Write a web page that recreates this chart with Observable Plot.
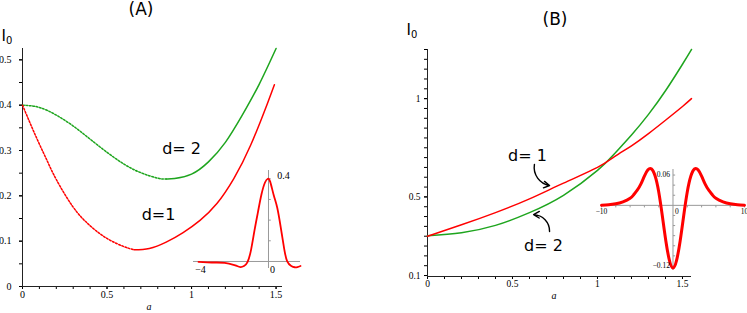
<!DOCTYPE html>
<html><head><meta charset="utf-8">
<script src="https://cdn.jsdelivr.net/npm/d3@7"></script>
<script src="https://cdn.jsdelivr.net/npm/@observablehq/plot@0.6"></script>
<style>
body{margin:0;background:#fff;}
#root{position:relative;width:747px;height:313px;overflow:hidden;font-family:"DejaVu Sans",sans-serif;}
.abs{position:absolute;}
.lbl{position:absolute;white-space:nowrap;line-height:1;color:#000;}
</style></head><body><div id="root"></div>
<script>
// ---------- Panel A data ----------
const aA_d2 = [0,0.1,0.2,0.3,0.4,0.5,0.6,0.7,0.8,0.85,0.9,1.0,1.1,1.2,1.3,1.4,1.5];
const IA_d2 = [0.400,0.395,0.378,0.354,0.325,0.296,0.270,0.251,0.239,0.237,0.238,0.248,0.275,0.318,0.378,0.446,0.525];
const aA_d1 = [0,0.05,0.1,0.15,0.2,0.3,0.4,0.5,0.6,0.66,0.75,0.85,0.95,1.05,1.15,1.25,1.35,1.45,1.49];
const IA_d1 = [0.400,0.356,0.314,0.274,0.236,0.175,0.134,0.106,0.088,0.081,0.084,0.098,0.119,0.146,0.183,0.238,0.312,0.405,0.445];
const splitA_d2 = 0.85, splitA_d1 = 0.66;
// inset A
const xInsetA = [-4,-3.5,-3,-2.5,-2,-1.8,-1.6,-1.4,-1.2,-1.0,-0.8,-0.6,-0.4,-0.2,-0.04,0.1,0.3,0.5,0.7,0.9,1.07,1.3,1.5,1.65,1.83];
const yInsetA = [-0.002,-0.004,-0.005,-0.007,-0.016,-0.022,-0.027,-0.022,-0.003,0.055,0.15,0.24,0.325,0.382,0.40,0.385,0.32,0.26,0.165,0.06,0.0,-0.022,-0.028,-0.027,-0.022];
// ---------- Panel B data ----------
const aB = [0,0.2,0.4,0.6,0.8,1.0,1.1,1.2,1.3,1.4,1.5,1.553];
const IB_d1 = [0.300,0.358,0.420,0.490,0.570,0.650,0.705,0.760,0.822,0.890,0.960,1.000];
const IB_d2 = [0.302,0.318,0.355,0.420,0.508,0.635,0.720,0.815,0.920,1.040,1.175,1.250];
// inset B
const xInsetB = [-10,-9,-8,-7,-6,-5.5,-5,-4.5,-4,-3.5,-3,-2.5,-2,-1.5,-1,-0.5,0,0.5,1,1.5,2,2.5,3,3.5,4,4.5,5,5.5,6,7,8,9,10];
const yInsetB = [0.0003,0.001,0.003,0.007,0.014,0.021,0.030,0.042,0.058,0.0705,0.072,0.058,0.027,-0.020,-0.0705,-0.109,-0.124,-0.109,-0.0705,-0.020,0.027,0.058,0.072,0.0705,0.058,0.042,0.030,0.021,0.014,0.007,0.003,0.001,0.0003];
// ---------- ticks ----------
const xMinor = [0,0.1,0.2,0.3,0.4,0.5,0.6,0.7,0.8,0.9,1,1.1,1.2,1.3,1.4,1.5];
const xLabels = [0,0.5,1,1.5];
const yMinorA = [0,0.05,0.1,0.15,0.2,0.25,0.3,0.35,0.4,0.45,0.5];
const yLabelsA = [0,0.1,0.2,0.3,0.4,0.5];
const yMinorB = [0.1,0.15,0.2,0.25,0.3,0.35,0.4,0.45,0.5,0.55,0.6,0.65,0.7,0.75,0.8,0.85,0.9,0.95,1,1.05,1.1,1.15,1.2,1.25];
const yLabelsB = [0.1,0.5,1];
const yTicksInsetA = [0.1,0.2,0.3,0.4];
const yTicksInsetB = [-0.12,-0.1,-0.08,-0.06,-0.04,-0.02,0.02,0.04,0.06];
const xTicksInsetB = [-10,-8,-6,-4,-2,2,4,6,8,10];

const green = "#1ea51e", red = "#ff0000";
const fmt = d3.format("~g");
const root = document.getElementById("root");
function place(el, left, top){ const d=document.createElement("div"); d.className="abs"; d.style.left=left+"px"; d.style.top=top+"px"; d.appendChild(el); root.appendChild(d); }
function label(html, x, y, css){ const d=document.createElement("div"); d.className="lbl"; d.innerHTML=html; d.style.left=x+"px"; d.style.top=y+"px"; d.style.transform="translate(-50%,-50%)"; Object.assign(d.style, css||{}); root.appendChild(d); }

const dA2 = aA_d2.map((a,i)=>({a, I:IA_d2[i]}));
const dA1 = aA_d1.map((a,i)=>({a, I:IA_d1[i]}));
const dB1 = aB.map((a,i)=>({a, I:IB_d1[i]}));
const dB2 = aB.map((a,i)=>({a, I:IB_d2[i]}));
const dIA = xInsetA.map((x,i)=>({x, y:yInsetA[i]}));
const dIB = xInsetB.map((x,i)=>({x, y:yInsetB[i]}));

const annoA = [{a:0.941, I:0.304, t:"d= 2"},{a:0.805, I:0.157, t:"d=1"}];
const annoB = [{a:0.588, I:0.711, t:"d= 1"},{a:0.682, I:0.253, t:"d= 2"}];
const arrowsB = [{x1:0.629,y1:0.665,x2:0.718,y2:0.558},{x1:0.718,y1:0.324,x2:0.624,y2:0.41}];

const axisStyle = {fontFamily:"Liberation Serif", fontSize:"10px", background:"transparent", color:"#000", overflow:"visible"};
const curve = "natural";
const dots = "1.8,1.6";

const plotA = Plot.plot({
  width:300, height:313, marginLeft:22, marginRight:18, marginTop:48, marginBottom:27,
  x:{domain:[0,1.538], label:null}, y:{domain:[0,0.525], label:null},
  style: axisStyle,
  marks:[
    Plot.axisX({ticks:xMinor, tickSize:3, tickFormat:()=>"", label:null}),
    Plot.axisX({ticks:xLabels, tickSize:3, tickPadding:1, tickFormat:fmt, label:null}),
    Plot.axisY({ticks:yMinorA, tickSize:3, tickFormat:()=>"", label:null}),
    Plot.axisY({ticks:yLabelsA, tickSize:3, tickPadding:8, tickFormat:fmt, label:null}),
    Plot.ruleY([0], {stroke:"#222"}), Plot.ruleX([0], {stroke:"#222"}),
    Plot.line(dA2.filter(d=>d.a<=splitA_d2), {x:"a", y:"I", stroke:green, strokeWidth:1.5, strokeDasharray:dots, curve}),
    Plot.line(dA2.filter(d=>d.a>=splitA_d2), {x:"a", y:"I", stroke:green, strokeWidth:1.5, curve}),
    Plot.line(dA1.filter(d=>d.a<=splitA_d1), {x:"a", y:"I", stroke:red, strokeWidth:1.5, strokeDasharray:dots, curve}),
    Plot.line(dA1.filter(d=>d.a>=splitA_d1), {x:"a", y:"I", stroke:red, strokeWidth:1.5, curve}),
    Plot.text(annoA, {x:"a", y:"I", text:"t", fontSize:16, fontFamily:"DejaVu Sans", fill:"#000"})
  ]
});
place(plotA, 0, 0);

const insetA = Plot.plot({
  width:120, height:120, marginLeft:13, marginRight:0, marginTop:10, marginBottom:12,
  x:{domain:[-4.286,1.829], axis:null}, y:{domain:[-0.034,0.44], axis:null},
  style:{background:"transparent", overflow:"visible"},
  marks:[
    Plot.ruleY([0], {stroke:"#999"}), Plot.ruleX([0], {stroke:"#999"}),
    Plot.link(yTicksInsetA, {x1:0, x2:0.13, y1:d=>d, y2:d=>d, stroke:"#999"}),
    Plot.line(dIA, {x:"x", y:"y", stroke:red, strokeWidth:1.8, curve}),
    Plot.text(["−4"], {x:-4, y:0, dx:2, dy:8, text:d=>d, fontFamily:"Liberation Serif", fontSize:10}),
    Plot.text(["0"], {x:0, y:0, dx:4, dy:8, text:d=>d, fontFamily:"Liberation Serif", fontSize:10}),
    Plot.text(["0.4"], {x:0, y:0.4, dx:15, dy:-3, text:d=>d, fontFamily:"Liberation Serif", fontSize:10})
  ]
});
place(insetA, 180, 160);

const plotB = Plot.plot({
  width:367, height:313, marginLeft:47, marginRight:56, marginTop:49, marginBottom:37,
  x:{domain:[0,1.553], label:null}, y:{domain:[0.095,1.25], label:null},
  style: {...axisStyle, fontSize:"9.5px"},
  marks:[
    Plot.axisX({ticks:xMinor, tickSize:3, tickFormat:()=>"", label:null}),
    Plot.axisX({ticks:xLabels, tickSize:3, tickPadding:1, tickFormat:fmt, label:null}),
    Plot.axisY({ticks:yMinorB, tickSize:3, tickFormat:()=>"", label:null}),
    Plot.axisY({ticks:yLabelsB, tickSize:3, tickPadding:4, tickFormat:fmt, label:null}),
    Plot.ruleY([0.095], {stroke:"#222"}), Plot.ruleX([0], {stroke:"#222"}),
    Plot.line(dB2, {x:"a", y:"I", stroke:green, strokeWidth:1.5, curve}),
    Plot.line(dB1, {x:"a", y:"I", stroke:red, strokeWidth:1.5, curve}),
    Plot.text(annoB, {x:"a", y:"I", text:"t", fontSize:16, fontFamily:"DejaVu Sans", fill:"#000"}),
    Plot.arrow(arrowsB, {x1:"x1", y1:"y1", x2:"x2", y2:"y2", bend:-45, stroke:"#000", strokeWidth:1.4, headLength:7})
  ]
});
place(plotB, 380, 0);

const insetB = Plot.plot({
  width:152, height:120, marginLeft:6, marginRight:2, marginTop:9, marginBottom:10,
  x:{domain:[-10,10.14], axis:null}, y:{domain:[-0.129,0.071], axis:null},
  style:{background:"transparent", overflow:"visible"},
  marks:[
    Plot.ruleY([0], {stroke:"#999"}), Plot.ruleX([0], {stroke:"#999"}),
    Plot.link(yTicksInsetB, {x1:0, x2:0.3, y1:d=>d, y2:d=>d, stroke:"#999"}),
    Plot.link(xTicksInsetB, {x1:d=>d, x2:d=>d, y1:0, y2:-0.004, stroke:"#999"}),
    Plot.line(dIB, {x:"x", y:"y", stroke:red, strokeWidth:3, curve}),
    Plot.text(["0.06"], {x:0, y:0.06, dx:-3, textAnchor:"end", text:d=>d, fontFamily:"Liberation Serif", fontSize:7.5}),
    Plot.text(["−0.12"], {x:0, y:-0.12, dx:-3, textAnchor:"end", text:d=>d, fontFamily:"Liberation Serif", fontSize:7.5}),
    Plot.text(["0"], {x:0, y:0, dx:4, dy:6, text:d=>d, fontFamily:"Liberation Serif", fontSize:7.5}),
    Plot.text(["−10"], {x:-10, y:0, dy:6, text:d=>d, fontFamily:"Liberation Serif", fontSize:7.5}),
    Plot.text(["10"], {x:10, y:0, dy:6, text:d=>d, fontFamily:"Liberation Serif", fontSize:7.5})
  ]
});
place(insetB, 595, 160);

// titles and axis names
label("(A)", 141, 9, {fontSize:"17px"});
label("(B)", 555, 19, {fontSize:"17px"});
label("I<sub style='font-size:10px;vertical-align:-3px'>0</sub>", 7, 37, {fontSize:"15px"});
label("I<sub style='font-size:10px;vertical-align:-3px'>0</sub>", 412, 31, {fontSize:"15px"});
label("a", 149, 307, {fontFamily:"Liberation Serif", fontStyle:"italic", fontSize:"10px"});
label("a", 554, 296, {fontFamily:"Liberation Serif", fontStyle:"italic", fontSize:"10px"});
</script></body></html>
